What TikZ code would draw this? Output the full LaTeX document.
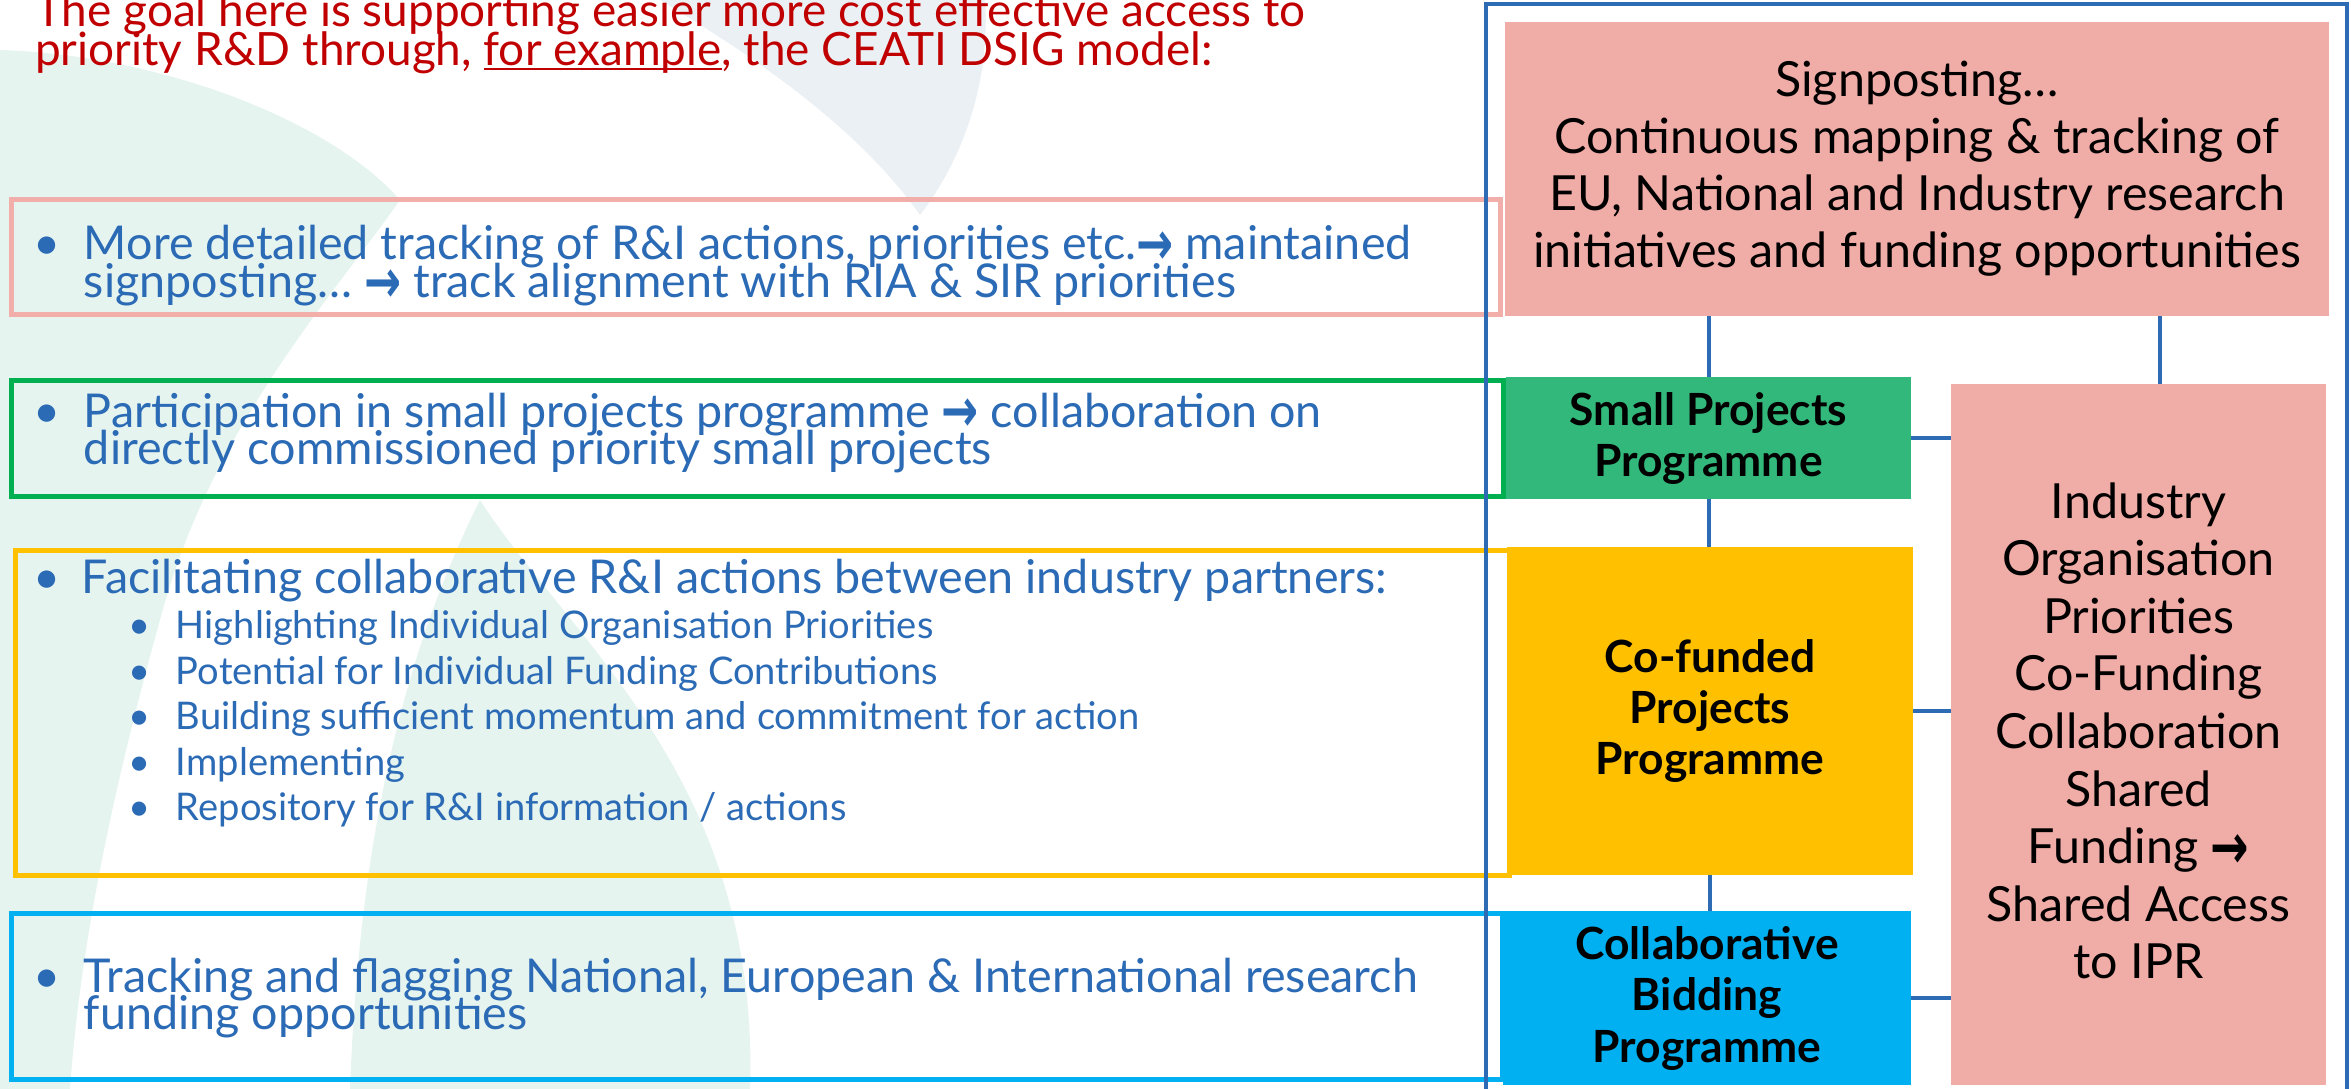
\documentclass[tikz,border=0pt]{standalone}
\usepackage{fontspec}
\setmainfont{Lato}
\newfontfamily\arrowfont{DejaVu Sans}
\definecolor{titlered}{HTML}{C00000}
\definecolor{txtblue}{HTML}{2B6AB5}
\definecolor{frameblue}{HTML}{2E6BB5}
\definecolor{pinkfill}{HTML}{F0ACA6}
\definecolor{pinkline}{HTML}{F2AEA8}
\definecolor{greenline}{HTML}{00B050}
\definecolor{greenfill}{HTML}{33B87B}
\definecolor{yellowc}{HTML}{FFC000}
\definecolor{cyanc}{HTML}{00B0F0}
\definecolor{mint}{HTML}{E6F4F0}
\definecolor{haze}{HTML}{EBF0F4}
\newbox\fitbox
\newdimen\fitdim
\newcommand\Lrows[2]{\vtop{\baselineskip=#1\lineskiplimit=-\maxdimen\lineskip=0pt\halign{##\hfil\cr#2\crcr}}}
\newcommand\Crows[2]{\vtop{\baselineskip=#1\lineskiplimit=-\maxdimen\lineskip=0pt\halign{\hfil##\hfil\cr#2\crcr}}}
\newcommand\myul[1]{\setbox2=\hbox{#1}\rlap{\rule[-5pt]{\wd2}{2.7pt}}\box2}
\newcommand\arr{{\arrowfont\bfseries\raisebox{0.33em}{\scalebox{0.95}[1.3]{\raisebox{-0.33em}{→}}}}}
\newcommand\bl[1]{\makebox[#1][l]{•}}
\newcommand\fitsize[3]{\setbox\fitbox=\hbox{\fontsize{10pt}{10pt}\selectfont#2}\fitdim=\wd\fitbox\pgfmathsetmacro\fittmp{10*#3/\fitdim}\global\let#1\fittmp}
\newcommand\subrow[1]{{\fontsize{\Ssz pt}{45pt}\selectfont\hspace*{96pt}\makebox[47pt][l]{•}#1}}
\begin{document}
\fitsize\Tsz{The goal here is supporting easier more cost effective access to}{1270}%
\fitsize\Bsz{Tracking and flagging National, European \& International research}{1334}%
\fitsize\Ssz{Building sufficient momentum and commitment for action}{963}%
\fitsize\Rsz{initiatives and funding opportunities}{768}%
\fitsize\Ksz{\bfseries Collaborative}{263}%
\begin{tikzpicture}[x=1pt,y=-1pt,
  lbox/.style={draw, line width=5pt, inner ysep=0pt, text=txtblue, font=\fontsize{\Bsz pt}{37.5pt}\selectfont},
  rbox/.style={inner sep=0pt, text=black, font=\fontsize{\Rsz pt}{57pt}\selectfont},
  kbox/.style={inner sep=0pt, text=black, font=\fontsize{\Ksz pt}{51pt}\selectfont\bfseries},
  conn/.style={draw=frameblue, line width=4pt}]
\useasboundingbox (0,0) rectangle (2351,1089);
% faint background artwork
\fill[mint] (0,50) .. controls (160,55) and (330,120) .. (400,200) .. controls (330,300) and (210,430) .. (160,620) .. controls (110,800) and (80,950) .. (70,1089) -- (0,1089) -- cycle;
\fill[mint] (480,500) .. controls (570,640) and (760,780) .. (750,1089) -- (350,1089) .. controls (360,820) and (410,640) .. (480,500) -- cycle;
\fill[haze] (660,0) .. controls (760,60) and (860,130) .. (920,215) .. controls (970,150) and (990,70) .. (985,0) -- cycle;
% title
\node[anchor=base west, inner sep=0pt, text=titlered, font=\fontsize{\Tsz pt}{38.5pt}\selectfont] (title) at (35,27)
  {\Lrows{38.5pt}{The goal here is supporting easier more cost effective access to\cr priority R\&D through, \myul{for example}, the CEATI DSIG model:}};
% left boxes
\node[lbox, draw=pinkline, minimum width=1489pt, minimum height=114.5pt, text height=40pt, text depth=34.5pt, inner xsep=22pt] (b1) at (755.5,256.75)
  {\makebox[1445pt][l]{\Lrows{38pt}{\bl{51pt}More detailed tracking of R\&I actions, priorities etc.\arr{} maintained\cr\hspace*{51pt}signposting… \arr{} track alignment with RIA \& SIR priorities}}};
\node[lbox, draw=greenline, minimum width=1492pt, minimum height=116.5pt, text height=40pt, text depth=62.5pt, inner xsep=22pt] (b2) at (757,438.25)
  {\makebox[1448pt][l]{\Lrows{37.5pt}{\bl{51pt}Participation in small projects programme \arr{} collaboration on\cr\hspace*{51pt}directly commissioned priority small projects}}};
\node[lbox, draw=yellowc, minimum width=1494pt, minimum height=325pt, text height=40pt, text depth=279pt, inner xsep=18pt] (b3) at (762,712.5)
  {\makebox[1458pt][l]{\Lrows{45.5pt}{\bl{49pt}Facilitating collaborative R\&I actions between industry partners:\cr
   \subrow{Highlighting Individual Organisation Priorities}\cr
   \subrow{Potential for Individual Funding Contributions}\cr
   \subrow{Building sufficient momentum and commitment for action}\cr
   \subrow{Implementing}\cr
   \subrow{Repository for R\&I information / actions}}}};
\node[lbox, draw=cyanc, minimum width=1491pt, minimum height=166pt, text height=40pt, text depth=48pt, inner xsep=22pt] (b4) at (756.5,996)
  {\makebox[1447pt][l]{\Lrows{37.5pt}{\bl{51pt}Tracking and flagging National, European \& International research\cr\hspace*{51pt}funding opportunities}}};
% frame
\draw[frameblue, line width=4pt] (1486,1095) -- (1486,4) -- (2347,4) -- (2347,1095);
% right boxes
\node[rbox, fill=pinkfill, minimum width=824pt, minimum height=294pt, text height=40pt, text depth=184pt] (sign) at (1917,169)
  {\Crows{57pt}{Signposting…\cr Continuous mapping \& tracking of\cr EU, National and Industry research\cr initiatives and funding opportunities}};
\node[kbox, fill=greenfill, minimum width=405pt, minimum height=122pt, text height=30pt, text depth=56pt] (small) at (1708.5,438)
  {\Crows{51pt}{Small Projects\cr Programme}};
\node[kbox, fill=yellowc, minimum width=406pt, minimum height=328pt, text height=30pt, text depth=108pt] (cofund) at (1710,711)
  {\Crows{51pt}{Co-funded\cr Projects\cr Programme}};
\node[kbox, fill=cyanc, minimum width=408pt, minimum height=174pt, text height=30pt, text depth=108pt] (collab) at (1707,998)
  {\Crows{51.5pt}{Collaborative\cr Bidding\cr Programme}};
\node[rbox, fill=pinkfill, minimum width=375pt, minimum height=701pt, text height=40pt, text depth=473pt] (industry) at (2138.5,734.5)
  {\Crows{57.6pt}{Industry\cr Organisation\cr Priorities\cr Co-Funding\cr Collaboration\cr Shared\cr Funding \arr\cr Shared Access\cr to IPR}};
% connectors
\draw[conn] (small.north |- sign.south) -- (small.north);
\draw[conn] ([xshift=21.5pt]industry.north |- sign.south) -- ([xshift=21.5pt]industry.north);
\draw[conn] (small.south) -- (small.south |- cofund.north);
\draw[conn] (cofund.south) -- (cofund.south |- collab.north);
\draw[conn] (small.east) -- (small.east -| industry.west);
\draw[conn] (cofund.east) -- (cofund.east -| industry.west);
\draw[conn] (collab.east) -- (collab.east -| industry.west);
\end{tikzpicture}
\end{document}
